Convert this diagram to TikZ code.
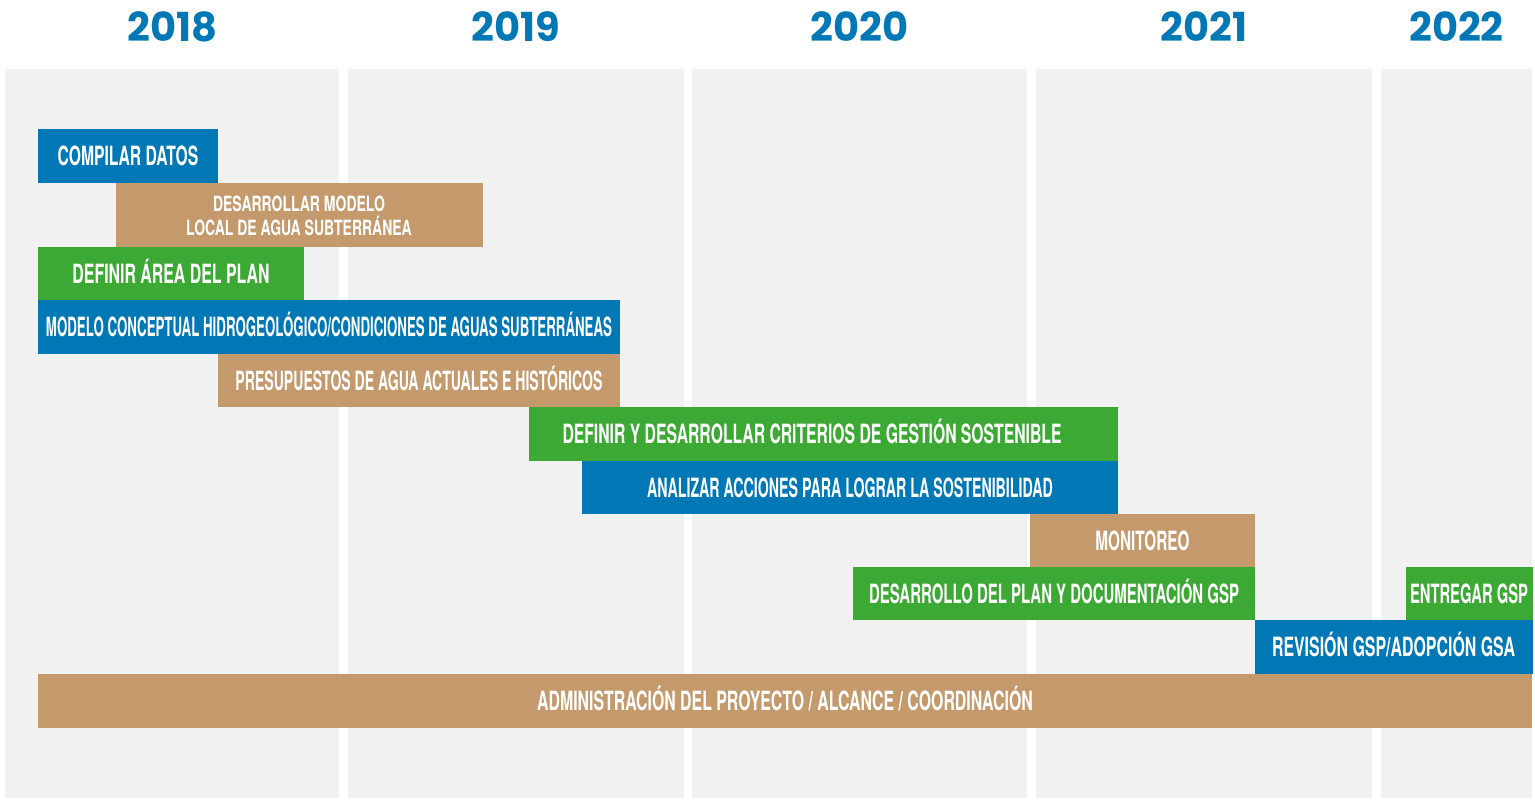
\documentclass[tikz,border=0pt]{standalone}
\usepackage{fontspec}
\usepackage{graphicx}
\newfontfamily\barfont[FakeStretch=0.6]{TeX Gyre Heros}
\newfontfamily\yearfont{Poppins}
\newcommand\fw[2]{\resizebox{#1pt}{\height}{#2}}
\definecolor{gblue}{RGB}{0,120,182}
\definecolor{ggreen}{RGB}{61,169,53}
\definecolor{gtan}{RGB}{196,153,108}
\definecolor{gpanel}{RGB}{241,241,241}
\begin{document}
\begin{tikzpicture}[x=1pt,y=-1pt,
  panel/.style={fill=gpanel},
  year/.style={text=gblue, inner sep=0pt, anchor=base, font={\yearfont\bfseries\fontsize{40pt}{44pt}\selectfont}},
  bar/.style={draw=none, inner sep=0pt, text=white,
    font={\barfont\bfseries\fontsize{26.5pt}{30pt}\selectfont},
    text height=19pt, text depth=0pt},
  wh/.style 2 args={minimum width=#1pt, minimum height=#2pt},
  bluebar/.style={bar, fill=gblue},
  greenbar/.style={bar, fill=ggreen},
  tanbar/.style={bar, fill=gtan},
  bartext/.style={inner sep=0pt, text=white,
    font={\barfont\bfseries\fontsize{26.5pt}{30pt}\selectfont},
    text height=19pt, text depth=0pt},
  smalltext/.style={inner sep=0pt, text=white, align=center,
    font={\barfont\bfseries\fontsize{21pt}{23.5pt}\selectfont}}
]
\fill[white] (0,0) rectangle (1535,804);
\useasboundingbox (0,0) rectangle (1535,804);
% year columns
\fill[panel] (5,69) rectangle (339,798);
\fill[panel] (348,69) rectangle (684,798);
\fill[panel] (692,69) rectangle (1027,798);
\fill[panel] (1036,69) rectangle (1372,798);
\fill[panel] (1381,69) rectangle (1532,798);
% years
\node[year] (y18) at (172.5,41) {2018};
\node[year] (y19) at (516,41) {2019};
\node[year] (y20) at (859.5,41) {2020};
\node[year] (y21) at (1204,41) {2021};
\node[year] (y22) at (1456.5,41) {2022};
% bars
\node[bluebar, wh={180}{54}] (b1) at (128,156) {\fw{140.7}{COMPILAR DATOS}};
\node[tanbar, wh={367}{64}] (b2) at (299.5,215) {};
\node[smalltext] (t2) at (299,216) {\fw{172}{DESARROLLAR MODELO}\\\fw{225.6}{LOCAL DE AGUA SUBTERRÁNEA}};
\node[greenbar, wh={266}{53}] (b3) at (171,273.5) {\fw{197}{DEFINIR ÁREA DEL PLAN}};
\node[bluebar, wh={582}{54}] (b4) at (329,327) {\fw{566}{MODELO CONCEPTUAL HIDROGEOLÓGICO/CONDICIONES DE AGUAS SUBTERRÁNEAS}};
\node[tanbar, wh={402}{53}] (b5) at (419,380.5) {\fw{367}{PRESUPUESTOS DE AGUA ACTUALES E HISTÓRICOS}};
\node[greenbar, wh={589}{54}] (b6) at (823.5,434) {};
\node[bartext] (t6) at (812,434) {\fw{499}{DEFINIR Y DESARROLLAR CRITERIOS DE GESTIÓN SOSTENIBLE}};
\node[bluebar, wh={536}{53}] (b7) at (850,487.5) {\fw{405.6}{ANALIZAR ACCIONES PARA LOGRAR LA SOSTENIBILIDAD}};
\node[tanbar, wh={225}{53}] (b8) at (1142.5,540.5) {\fw{94.3}{MONITOREO}};
\node[greenbar, wh={402}{53}] (b9) at (1054,593.5) {\fw{370}{DESARROLLO DEL PLAN Y DOCUMENTACIÓN GSP}};
\node[greenbar, wh={127}{53}] (b10) at (1469,593.5) {\fw{118}{ENTREGAR GSP}};
\node[bluebar, wh={278}{54}] (b11) at (1393.5,647) {\fw{243}{REVISIÓN GSP/ADOPCIÓN GSA}};
\node[tanbar, wh={1494}{54}] (b12) at (785,701) {\fw{495.6}{ADMINISTRACIÓN DEL PROYECTO / ALCANCE / COORDINACIÓN}};
\end{tikzpicture}
\end{document}
